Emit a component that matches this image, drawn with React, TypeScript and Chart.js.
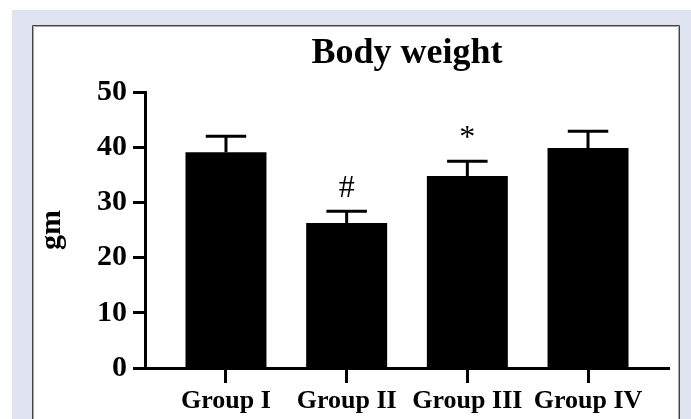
import React, { useEffect, useRef } from 'react';
import { Chart, registerables } from 'chart.js';

Chart.register(...registerables);

const categories = ['Group I', 'Group II', 'Group III', 'Group IV'];
const meanWeights = [39.1, 26.3, 34.8, 39.9];
const errorValues = [2.9, 2.1, 2.7, 3.0];
const significanceMarks = ['', '#', '*', ''];
const yTickValues = [0, 10, 20, 30, 40, 50];
const chartTitle = 'Body weight';
const yAxisLabel = 'gm';

const SERIF = "'Liberation Serif', 'Times New Roman', serif";

const panelPlugin = {
  id: 'panelBackground',
  beforeDraw(chart: any) {
    const { ctx, width, height } = chart;
    ctx.save();
    ctx.fillStyle = '#ffffff';
    ctx.fillRect(0, 0, width, height);
    ctx.fillStyle = '#e0e4f1';
    ctx.fillRect(12, 10, width - 12, height - 10);
    ctx.fillStyle = '#ffffff';
    ctx.fillRect(32, 25, 648, height - 25);
    ctx.lineWidth = 1;
    ctx.strokeStyle = '#444444';
    ctx.beginPath();
    ctx.moveTo(32.5, height);
    ctx.lineTo(32.5, 25.5);
    ctx.lineTo(679.5, 25.5);
    ctx.lineTo(679.5, height);
    ctx.stroke();
    ctx.strokeStyle = '#a8a8a8';
    ctx.beginPath();
    ctx.moveTo(33.5, height);
    ctx.lineTo(33.5, 26.5);
    ctx.lineTo(678.5, 26.5);
    ctx.lineTo(678.5, height);
    ctx.stroke();
    ctx.restore();
  },
};

const errorBarPlugin = {
  id: 'errorBars',
  afterDatasetsDraw(chart: any) {
    const { ctx } = chart;
    const yScale = chart.scales.y;
    const meta = chart.getDatasetMeta(0);
    ctx.save();
    ctx.strokeStyle = '#000000';
    ctx.lineWidth = 3;
    meta.data.forEach((bar: any, i: number) => {
      const x = bar.x;
      const top = yScale.getPixelForValue(meanWeights[i] + errorValues[i]);
      const capHalf = bar.width * 0.25;
      ctx.beginPath();
      ctx.moveTo(x, bar.y);
      ctx.lineTo(x, top);
      ctx.moveTo(x - capHalf, top);
      ctx.lineTo(x + capHalf, top);
      ctx.stroke();
      const mark = significanceMarks[i];
      if (mark) {
        ctx.fillStyle = '#000000';
        ctx.font = `32px ${SERIF}`;
        ctx.textAlign = 'center';
        ctx.textBaseline = 'alphabetic';
        ctx.fillText(mark, x, top - 14);
      }
    });
    ctx.restore();
  },
};

export default function App() {
  const canvasRef = useRef<HTMLCanvasElement | null>(null);

  useEffect(() => {
    if (!canvasRef.current) return;
    const chart = new Chart(canvasRef.current, {
      type: 'bar',
      data: {
        datasets: [
          {
            label: chartTitle,
            data: meanWeights.map((v, i) => ({ x: i, y: v })),
            backgroundColor: '#000000',
            borderWidth: 0,
            barPercentage: 0.671,
            categoryPercentage: 1,
          },
        ],
      },
      options: {
        responsive: false,
        animation: false,
        devicePixelRatio: 1,
        layout: { padding: { left: 0, right: 22, top: 0, bottom: 0 } },
        plugins: {
          legend: { display: false },
          tooltip: { enabled: false },
          title: {
            display: true,
            text: chartTitle,
            fullSize: false,
            color: '#000000',
            font: { family: SERIF, size: 36, weight: 'bold', lineHeight: 1.2 },
            padding: { top: 32, bottom: 17 },
          },
        },
        scales: {
          x: {
            type: 'linear',
            min: -0.671,
            max: 3.671,
            offset: false,
            grid: {
              display: true,
              drawOnChartArea: false,
              drawTicks: true,
              tickLength: 15,
              tickWidth: 3,
              tickColor: '#000000',
              offset: false,
            },
            border: { display: true, color: '#000000', width: 3 },
            ticks: {
              autoSkip: false,
              maxRotation: 0,
              minRotation: 0,
              padding: 3,
              color: '#000000',
              font: { family: SERIF, size: 26, weight: 'bold' },
              callback: (v: any) => categories[v] ?? '',
            },
            afterBuildTicks: (s: any) => {
              s.ticks = categories.map((_, i) => ({ value: i }));
            },
            afterFit: (s: any) => {
              s.height = 51;
            },
          },
          y: {
            min: 0,
            max: 50,
            grid: {
              display: true,
              drawOnChartArea: false,
              drawTicks: true,
              tickLength: 12,
              tickWidth: 3,
              tickColor: '#000000',
            },
            border: { display: true, color: '#000000', width: 3 },
            ticks: {
              padding: 6,
              color: '#000000',
              font: { family: SERIF, size: 30, weight: 'bold' },
            },
            afterBuildTicks: (s: any) => {
              s.ticks = yTickValues.map((v) => ({ value: v }));
            },
            title: {
              display: true,
              text: yAxisLabel,
              color: '#000000',
              font: { family: SERIF, size: 30, weight: 'bold', lineHeight: 1.2 },
              padding: { top: 34, bottom: 0 },
            },
            afterFit: (s: any) => {
              s.width = 145;
            },
          },
        },
      } as any,
      plugins: [panelPlugin, errorBarPlugin],
    });
    return () => chart.destroy();
  }, []);

  return (
    <div style={{ position: 'fixed', left: 0, top: 0, width: 691, height: 419, background: '#ffffff' }}>
      <canvas ref={canvasRef} width={691} height={419} style={{ display: 'block' }} />
    </div>
  );
}
